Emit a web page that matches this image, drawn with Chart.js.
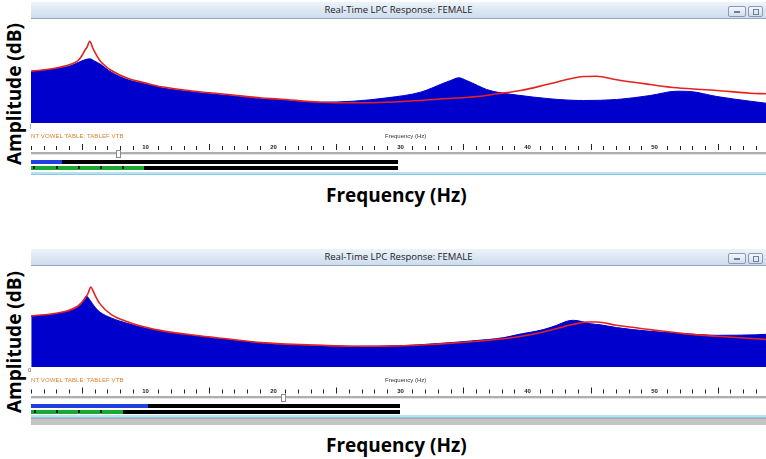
<!DOCTYPE html>
<html><head><meta charset="utf-8">
<script src="https://cdn.jsdelivr.net/npm/chart.js@4.4.0/dist/chart.umd.min.js"></script>
<style>
html,body{margin:0;padding:0;background:#fff;width:766px;height:459px;overflow:hidden;position:relative;font-family:"Open Sans",Arial,sans-serif}
.a{position:absolute}
.title{left:31px;width:735px;height:16px;background:linear-gradient(#edf3fa,#cddcee);border-bottom:1px solid #95a7bd;font:9.5px "Open Sans",Arial,sans-serif;color:#222;text-align:center;line-height:16px}
.btn{height:9px;border:1px solid #8799b3;border-radius:2px;background:linear-gradient(#f4f7fb,#d2deed)}
.btn i{position:absolute;left:5px;top:4px;width:6px;height:2px;background:#6d7f99}
.btn b{position:absolute;left:4px;top:2px;width:4px;height:4px;border:1px solid #6d7f99}
.orange{font:6px Arial,sans-serif;color:#d9822b;left:31px;letter-spacing:0.1px}
.small{font:6px Arial,sans-serif;color:#333;left:385px}
.zero{font:6px Arial,sans-serif;color:#555;left:30px}
.slider{left:31px;width:735px;height:2px;background:#aeaeae;border-bottom:1px solid #e4e4e4}
.thumb{width:3px;height:6px;border:1px solid #8a8a8a;background:#fff}
.bar{height:4px}
.sep{width:2px;height:3px;background:#111}
.lb{left:31px;width:735px;height:2px;background:#b9e0f4;border-bottom:1px solid #8fc6e2}
.big{font:bold 19px "Open Sans",Arial,sans-serif;color:#000;white-space:nowrap}
.vert{transform:rotate(-90deg);transform-origin:center center}
</style>
</head><body>

<!-- top panel -->
<div class="a title" style="top:2px">Real-Time LPC Response: FEMALE</div>
<div class="a btn" style="left:728px;top:6px;width:16px"><i></i></div>
<div class="a btn" style="left:748px;top:6px;width:13px"><b></b></div>
<canvas id="c1" class="a" style="left:31px;top:19px" width="735" height="140"></canvas>
<div class="a zero" style="top:123px">|</div>
<div class="a orange" style="top:133px">NT VOWEL TABLE: TABLEF VTB</div>
<div class="a small" style="top:133px">Frequency (Hz)</div>
<div class="a slider" style="top:152px"></div>
<div class="a thumb" style="left:116px;top:150px"></div>
<div class="a bar" style="left:31px;top:160px;width:31px;background:#1f3fe0"></div>
<div class="a bar" style="left:62px;top:160px;width:336px;background:#000"></div>
<div class="a bar" style="left:31px;top:166px;width:113px;background:#1aa82e"></div>
<div class="a bar" style="left:144px;top:166px;width:254px;background:#000"></div>
<div class="a sep" style="left:33px;top:166px"></div>
<div class="a sep" style="left:56px;top:166px"></div>
<div class="a sep" style="left:78px;top:166px"></div>
<div class="a sep" style="left:100px;top:166px"></div>
<div class="a sep" style="left:122px;top:166px"></div>
<div class="a lb" style="top:172px"></div>
<div class="a big" style="left:326px;top:182px">Frequency (Hz)</div>
<div class="a big vert" style="left:-56px;top:82px;width:140px;text-align:center">Amplitude (dB)</div>

<!-- bottom panel -->
<div class="a title" style="top:249px">Real-Time LPC Response: FEMALE</div>
<div class="a btn" style="left:728px;top:253px;width:16px"><i></i></div>
<div class="a btn" style="left:748px;top:253px;width:13px"><b></b></div>
<canvas id="c2" class="a" style="left:31px;top:266px" width="735" height="137"></canvas>
<div class="a zero" style="top:367px;left:28px">0</div>
<div class="a orange" style="top:377px">NT VOWEL TABLE: TABLEF VTB</div>
<div class="a small" style="top:377px">Frequency (Hz)</div>
<div class="a slider" style="top:396px"></div>
<div class="a thumb" style="left:281px;top:394px"></div>
<div class="a bar" style="left:31px;top:404px;width:117px;background:#1f3fe0"></div>
<div class="a bar" style="left:148px;top:404px;width:252px;background:#000"></div>
<div class="a bar" style="left:31px;top:410px;width:92px;background:#1aa82e"></div>
<div class="a bar" style="left:123px;top:410px;width:277px;background:#000"></div>
<div class="a sep" style="left:34px;top:410px"></div>
<div class="a sep" style="left:56px;top:410px"></div>
<div class="a sep" style="left:78px;top:410px"></div>
<div class="a sep" style="left:100px;top:410px"></div>
<div class="a lb" style="top:415px"></div>
<div class="a" style="left:31px;top:418px;width:735px;height:6px;background:#c4c4c4;border-top:1px solid #a9a9a9"></div>
<div class="a big" style="left:326px;top:432px">Frequency (Hz)</div>
<div class="a big vert" style="left:-56px;top:330px;width:140px;text-align:center">Amplitude (dB)</div>

<script>
// ---------- data (frequency in ruler units, amplitude in dB) ----------
const topSpectrumFreq = [1.0, 2.1, 3.36, 4.07, 4.70, 5.23, 5.62, 6.02, 6.41, 7.32, 8.64, 9.95, 11.26, 13.89, 16.51, 19.13, 20.45, 23.76, 26.35, 29.01, 31.63, 33.44, 34.0, 34.65, 35.25, 36.12, 36.83, 37.67, 39.19, 41.81, 44.44, 47.06, 49.69, 51.79, 52.83, 54.94, 57.56, 58.8];
const topSpectrumAmp  = [51.8, 53.0, 55.2, 57.0, 60.5, 63.2, 64.2, 61.8, 59.2, 50.8, 43.2, 39.2, 35.2, 30.8, 27.5, 24.2, 23.2, 20.8, 21.8, 25.2, 30.8, 39.8, 42.5, 45.2, 42.5, 37.5, 33.5, 30.8, 28.0, 24.2, 22.5, 23.5, 27.5, 31.8, 31.5, 26.5, 21.8, 19.8];
const topLpcFreq = [1.0, 2.1, 3.36, 4.07, 4.70, 4.96, 5.23, 5.41, 5.62, 5.84, 6.02, 6.41, 6.80, 7.32, 8.64, 9.95, 11.26, 13.89, 16.51, 19.13, 20.45, 23.76, 26.35, 29.01, 31.63, 33.44, 36.12, 37.67, 39.5, 41.81, 44.44, 45.49, 47.06, 49.69, 51.79, 54.94, 57.56, 58.8];
const topLpcAmp  = [51.8, 53.2, 56.0, 58.5, 62.5, 66.5, 72.5, 76.0, 81.8, 75.5, 70.8, 62.5, 57.5, 52.5, 44.5, 40.2, 36.2, 31.8, 28.5, 25.0, 24.0, 20.8, 20.2, 20.8, 22.5, 24.2, 26.5, 29.2, 32.5, 39.2, 46.5, 46.8, 43.2, 38.5, 35.2, 32.5, 29.8, 29.2];

const bottomSpectrumFreq = [1.02, 3.39, 4.70, 5.09, 5.35, 5.65, 6.02, 6.41, 7.32, 8.64, 9.95, 11.26, 13.89, 16.51, 19.13, 20.29, 23.76, 26.35, 30.29, 32.94, 35.57, 38.19, 39.19, 41.29, 42.34, 43.13, 43.65, 44.23, 45.02, 45.80, 47.06, 49.69, 52.32, 54.94, 58.0, 58.8];
const bottomSpectrumAmp  = [51, 54, 60, 65, 71, 66.7, 60, 55, 49, 43.4, 39, 35.7, 31, 27.4, 24, 22.7, 21.7, 20.7, 21.4, 23.4, 26, 29.4, 32.2, 37.4, 41.7, 45.7, 46.7, 45.7, 43.2, 42.2, 39.4, 35.7, 33.4, 31.7, 32.2, 32.7];
const bottomLpcFreq = [1.02, 3.39, 4.70, 5.25, 5.50, 5.70, 5.90, 6.04, 6.41, 7.32, 8.64, 9.95, 11.26, 13.89, 16.51, 19.13, 23.76, 26.35, 30.29, 32.94, 35.57, 38.19, 39.19, 41.29, 43.65, 44.70, 45.49, 47.06, 49.69, 52.32, 54.94, 58.61, 58.8];
const bottomLpcAmp  = [51, 54.7, 61, 68.7, 74, 80, 75.7, 71.7, 63.4, 52.4, 45, 40, 36.4, 31.7, 28, 24.4, 21.7, 20.7, 21.2, 22.9, 25.2, 28.2, 30, 35, 42.7, 45, 45, 41.7, 37.4, 33.4, 30.7, 27.7, 27.5];

const rulerLabels = [10, 20, 30, 40, 50];
const rulerMax = 58;

// ---------- chart building ----------
function pts(xs, ys){ return xs.map((x,i)=>({x:x, y:ys[i]})); }

const rulerPlugin = {
  id: 'ruler',
  afterDraw(chart, args, opts){
    const ctx = chart.ctx, xs = chart.scales.x;
    const base = chart.chartArea.bottom + opts.offset;
    ctx.save();
    ctx.strokeStyle = '#222'; ctx.lineWidth = 1;
    ctx.fillStyle = '#222';
    ctx.font = 'bold 6px Arial, sans-serif';
    ctx.textAlign = 'center'; ctx.textBaseline = 'bottom';
    for (let k = 1; k <= rulerMax; k++){
      const px = Math.round(xs.getPixelForValue(k)) + 0.5;
      if (rulerLabels.includes(k)) { ctx.fillText(String(k), px, base + 0.5); continue; }
      const len = (k % 5 === 0) ? 6 : 4;
      ctx.beginPath(); ctx.moveTo(px, base); ctx.lineTo(px, base - len); ctx.stroke();
    }
    ctx.restore();
  }
};

function makeChart(id, specF, specA, lpcF, lpcA, yMax, padBottom, rulerOffset){
  new Chart(document.getElementById(id), {
    type: 'line',
    data: { datasets: [
      { label: 'LPC', data: pts(lpcF, lpcA), borderColor: '#e4231f', borderWidth: 1.6,
        pointRadius: 0, fill: false, cubicInterpolationMode: 'monotone' },
      { label: 'Spectrum', data: pts(specF, specA), borderColor: '#0000cc', backgroundColor: '#0000cc',
        borderWidth: 1, pointRadius: 0, fill: 'origin', cubicInterpolationMode: 'monotone' }
    ]},
    options: {
      responsive: false, animation: false, events: [],
      layout: { padding: { left: 0, right: 0, top: 0, bottom: padBottom } },
      scales: {
        x: { type: 'linear', min: 1, max: 58.8, display: false },
        y: { min: 0, max: yMax, display: false }
      },
      plugins: { legend: { display: false }, tooltip: { enabled: false }, ruler: { offset: rulerOffset } }
    },
    plugins: [rulerPlugin]
  });
}

makeChart('c1', topSpectrumFreq, topSpectrumAmp, topLpcFreq, topLpcAmp, 104, 36, 27);
makeChart('c2', bottomSpectrumFreq, bottomSpectrumAmp, bottomLpcFreq, bottomLpcAmp, 101, 36, 26.5);
</script>
</body></html>
